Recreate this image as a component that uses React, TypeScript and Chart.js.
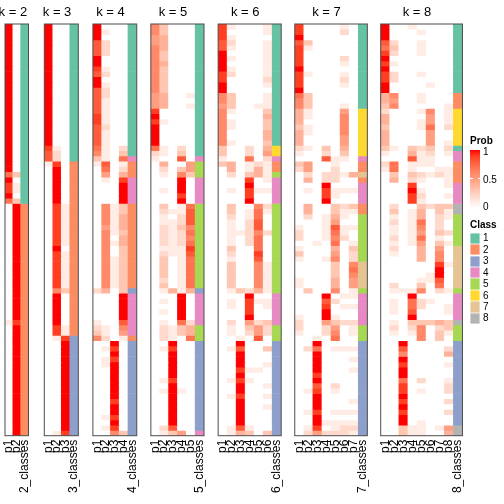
import React, { useEffect, useRef } from "react";
import { Chart, registerables } from "chart.js";

Chart.register(...registerables);

// ---------------- data ----------------
const K_VALUES = [2, 3, 4, 5, 6, 7, 8];
const PROB_LABELS = ["p1", "p2", "p3", "p4", "p5", "p6", "p7", "p8"];
const CLASS_NAMES = ["1", "2", "3", "4", "5", "6", "7", "8"];
const PROB_LEGEND_TICKS = ["1", "0.5", "0"];

// each string = one row (sample); each hex char = membership prob of p_i in tenths (A = 1.0)
const PROB_K2 = [
  "A0","A0","A0","A0","A0","A0","A0","A0","A0","A0",
  "A0","A0","A0","A0","A0","A0","A0","A0","A0","A0",
  "A0","A0","A0","A0","A0","A0","A0","A0","73","A0",
  "91","91","A0","73","0A","0A","0A","0A","0A","0A",
  "0A","0A","0A","0A","0A","0A","0A","0A","0A","0A",
  "0A","0A","0A","0A","0A","0A","19","0A","0A","0A",
  "0A","0A","0A","0A","0A","0A","0A","0A","0A","0A",
  "0A","0A","0A","0A","0A","0A","0A","0A",
];
const PROB_K3 = [
  "A00","A00","A00","A00","A00","A00","A00","A00","A00","A00",
  "A00","A00","A00","A00","A00","A00","A00","A00","A00","A00",
  "A00","A00","A00","910","820","820","190","0A0","0A0","0A0",
  "0A0","0A0","0A0","0A0","091","091","091","091","091","091",
  "091","091","0A0","091","091","091","091","091","091","091",
  "063","0A0","0A0","0A0","0A0","0A0","0A0","091","091","019",
  "00A","00A","00A","00A","00A","00A","00A","00A","00A","00A",
  "00A","00A","00A","00A","00A","00A","00A","019",
];
const PROB_K4 = [
  "A000","A100","A000","8200","8200","8200","A000","A000","9100","8200",
  "A000","A100","8200","8200","8100","8100","8100","9100","9100","8200",
  "8100","8100","8100","7102","6103","3107","1801","0702","0504","0109",
  "000A","000A","000A","000A","0613","0613","0614","0614","0514","0613",
  "0604","0614","0603","0603","0613","0613","0613","0613","0613","0613",
  "2403","000A","000A","000A","000A","000A","1008","2106","3105","6201",
  "00A0","0190","00A0","0190","01A0","00A0","00A0","00A0","00A0","00A0",
  "00A0","0090","00A0","00A0","0190","00A0","0190","0063",
];
const PROB_K5 = [
  "63000","63000","54000","54000","64000","63000","63000","64000","63000","63000",
  "63000","63000","63000","54001","54000","54001","90000","A0000","91000","A0000",
  "A0000","A0000","A0000","71020","21030","10080","04005","02035","01063","000A0",
  "000A0","010A0","00090","000A0","03017","02118","01028","01128","02136","02127",
  "02126","02127","01119","02118","03017","03017","03017","03017","02017","03017",
  "01414","000A0","010A0","000A0","010A0","000A0","01072","02134","02134","02107",
  "00A00","01900","00A00","00A00","00A00","00A00","00A00","01900","00A00","01A10",
  "00A00","00A00","00A00","00A00","00A00","00A00","02800","01350",
];
const PROB_K6 = [
  "910001","900001","910000","820001","810001","A00001","A10001","A00001","A10001","920001",
  "900002","A00001","A00000","630001","630001","530011","610003","600004","610003","610003",
  "600004","600004","610003","300204","300205","100702","340121","040141","020341","000901",
  "000A00","010911","000900","000A00","030062","030171","020170","010280","010280","011262",
  "010270","010270","030070","020090","010080","030061","030061","030061","030061","030061",
  "013241","000A00","010911","010901","000900","000A00","020523","010352","010252","001080",
  "00A000","018003","00A000","00A000","00A001","009110","00A000","019100","00A001","00A000",
  "019001","00A000","00A001","00A000","00A000","00A000","018100","014303",
];
const PROB_K7 = [
  "9000010","9000020","A000000","8300000","9100000","9000000","9000020","9000010","A000000","9100010",
  "9000020","9000010","A000000","7300000","6300000","6300010","4100050","4100060","4000060","3100060",
  "4100060","4000050","4000050","2103040","1002030","0008110","3500100","2500200","0202214","0402200",
  "000A000","0109111","0009100","000A000","0400323","0400311","0201410","0001500","1001811","2001710",
  "2001620","0010701","1000403","3000502","1001602","0000306","0000307","0000306","1000405","1000405",
  "0300601","000A011","0008200","0009011","000A000","100A100","2005322","2002501","1002601","0010700",
  "00A0000","0270111","00A0000","00A0001","00A0000","00A0001","0090000","00A0000","0080200","0190100",
  "00A0000","00A0001","00A0000","0190111","00A0000","00A1111","0190122","0252221",
];
const PROB_K8 = [
  "A0010000","A0001000","A0000000","82001000","73001000","92001000","A0000000","91000000","A0000000","92001000",
  "92000000","A0000100","A0000000","46001000","45001000","36000001","20001601","40000501","40001501","30001702",
  "40000500","40000500","40000501","31032302","10041201","00081100","27011100","17010011","03032121","04021001",
  "00090001","000A1000","00092001","00091000","02003233","03014031","01014021","02017020","01016020","01015032",
  "02017010","01015031","02004050","01004060","00004060","00000091","000000A0","000001A0","00001180","02003070",
  "01116021","000A0000","01072100","01072001","01080001","000A0000","01033343","02026023","01016031","00006030",
  "00A00000","00800002","00600004","00A00000","00900001","00A00000","00A00000","00702001","00900002","00901002",
  "00A00000","00900002","00A00000","00900002","00A00000","00A01000","00311015","00311004",
];

// class annotation as [class, number of consecutive rows]
const CLASS_K2 = [[1, 34], [2, 44]];
const CLASS_K3 = [[1, 26], [2, 33], [3, 19]];
const CLASS_K4 = [[1, 25], [4, 1], [2, 3], [4, 5], [2, 16], [3, 1], [4, 8], [2, 1], [3, 18]];
const CLASS_K5 = [[1, 25], [4, 1], [5, 3], [4, 5], [5, 16], [3, 1], [4, 6], [5, 3], [3, 17], [4, 1]];
const CLASS_K6 = [[1, 23], [6, 2], [4, 1], [2, 2], [5, 1], [4, 5], [5, 17], [4, 6], [5, 3], [3, 18]];
const CLASS_K7 = [[1, 16], [6, 9], [4, 1], [2, 2], [7, 1], [2, 1], [4, 4], [2, 2], [5, 9], [7, 5], [5, 1], [4, 6], [5, 3], [3, 18]];
const CLASS_K8 = [[1, 13], [2, 3], [6, 7], [1, 1], [4, 2], [2, 4], [4, 4], [8, 2], [5, 6], [7, 8], [5, 1], [4, 5], [8, 1], [5, 3], [3, 16], [8, 2]];

const PROBS = [PROB_K2, PROB_K3, PROB_K4, PROB_K5, PROB_K6, PROB_K7, PROB_K8];
const CLASSES = [CLASS_K2, CLASS_K3, CLASS_K4, CLASS_K5, CLASS_K6, CLASS_K7, CLASS_K8];

// ---------------- styles ----------------
const CLASS_COLORS = ["#66C2A5", "#FC8D62", "#8DA0CB", "#E78AC3", "#A6D854", "#FFD92F", "#E5C494", "#B3B3B3"];
const FONT = '"Liberation Sans", Arial, Helvetica, sans-serif';
const PANEL_TOP = 24;
const PANEL_BOTTOM = 435.7;
const COL_W = 9.33;
const GAP = 11.3;
const FIRST_LEFT = 5;
const PAD = 12;

function labToRgb(L: number, a: number, b: number): string {
  const fy = (L + 16) / 116;
  const fx = fy + a / 500;
  const fz = fy - b / 200;
  const finv = (t: number) => (t * t * t > 0.008856 ? t * t * t : (t - 16 / 116) / 7.787);
  const X = 0.95047 * finv(fx);
  const Y = 1.0 * finv(fy);
  const Z = 1.08883 * finv(fz);
  const lin = [
    3.2404542 * X - 1.5371385 * Y - 0.4985314 * Z,
    -0.969266 * X + 1.8760108 * Y + 0.041556 * Z,
    0.0556434 * X - 0.2040259 * Y + 1.0572252 * Z,
  ];
  const out = lin.map((c) => {
    const v = c <= 0.0031308 ? 12.92 * c : 1.055 * Math.pow(Math.max(c, 0), 1 / 2.4) - 0.055;
    return Math.round(Math.min(1, Math.max(0, v)) * 255);
  });
  return `rgb(${out[0]},${out[1]},${out[2]})`;
}

function probColor(v: number): string {
  return labToRgb(100 + (53.2408 - 100) * v, 80.0925 * v, 67.2032 * v);
}

function panelLeft(idx: number): number {
  let x = FIRST_LEFT;
  for (let i = 0; i < idx; i++) x += (K_VALUES[i] + 1) * COL_W + GAP;
  return x;
}

function decoPlugin(title: string, k: number) {
  return {
    id: "deco",
    afterDraw(chart: any) {
      const { ctx, chartArea: a } = chart;
      ctx.save();
      ctx.strokeStyle = "#4d4d4d";
      ctx.lineWidth = 1;
      ctx.strokeRect(a.left, a.top, a.right - a.left, a.bottom - a.top);
      ctx.fillStyle = "#000";
      ctx.font = `13px ${FONT}`;
      ctx.textAlign = "center";
      ctx.textBaseline = "alphabetic";
      const w = a.right - a.left;
      ctx.fillText(title, a.left + (w * k) / (k + 1) / 2, 15.5);
      ctx.restore();
    },
  };
}

function Panel(props: { idx: number }) {
  const { idx } = props;
  const k = K_VALUES[idx];
  const probs = PROBS[idx];
  const runs = CLASSES[idx];
  const left = panelLeft(idx);
  const panelW = (k + 1) * COL_W;
  const canvasLeft = Math.floor(left - PAD);
  const padL = left - canvasLeft;
  const canvasW = Math.ceil(padL + panelW + PAD);
  const padR = canvasW - padL - panelW;
  const ref = useRef<HTMLCanvasElement | null>(null);

  useEffect(() => {
    const canvas = ref.current;
    if (!canvas) return;
    const labels = [...PROB_LABELS.slice(0, k), `${k}_classes`];
    const classes: number[] = [];
    runs.forEach(([c, n]) => {
      for (let i = 0; i < n; i++) classes.push(c);
    });
    const datasets = probs.map((row, r) => ({
      data: labels.map(() => [r, r + 1]),
      backgroundColor: labels.map((_, c) =>
        c < k ? probColor(parseInt(row[c], 16) / 10) : CLASS_COLORS[classes[r] - 1]
      ),
      borderWidth: 0,
      grouped: false,
      categoryPercentage: 1,
      barPercentage: 1,
    }));
    const chart = new Chart(canvas, {
      type: "bar",
      data: { labels, datasets: datasets as any },
      options: {
        animation: false,
        responsive: false,
        devicePixelRatio: 1,
        events: [],
        layout: { padding: { left: padL, right: padR, top: PANEL_TOP, bottom: 0 } },
        plugins: { legend: { display: false }, tooltip: { enabled: false }, title: { display: false } },
        scales: {
          x: {
            type: "category",
            offset: true,
            grid: { display: false, drawTicks: false },
            border: { display: false },
            ticks: {
              autoSkip: false,
              maxRotation: 90,
              minRotation: 90,
              padding: 4,
              color: "#000",
              font: { family: FONT, size: 12 },
            },
            afterFit: (s: any) => {
              s.height = 504 - PANEL_BOTTOM;
            },
          },
          y: { type: "linear", min: 0, max: probs.length, reverse: true, display: false },
        },
      } as any,
      plugins: [decoPlugin(`k = ${k}`, k)],
    });
    return () => chart.destroy();
  }, []);

  return (
    <canvas
      ref={ref}
      width={canvasW}
      height={504}
      style={{ position: "absolute", left: canvasLeft, top: 0, width: canvasW, height: 504 }}
    />
  );
}

function Legend() {
  const stops: string[] = [];
  for (let i = 0; i <= 10; i++) stops.push(`${probColor(1 - i / 10)} ${i * 10}%`);
  const barTop = 149.5;
  const barH = 58;
  const tickY = [barTop, barTop + barH / 2, barTop + barH];
  const labelY = [151.7, 180.2, 206.5];
  const txt: React.CSSProperties = { position: "absolute", fontFamily: FONT, fontSize: 10, lineHeight: "10px", color: "#000", whiteSpace: "nowrap" };
  return (
    <>
      <div style={{ ...txt, left: 470, top: 136, fontWeight: "bold" }}>Prob</div>
      <div style={{ position: "absolute", left: 470, top: barTop, width: 10, height: barH, background: `linear-gradient(to bottom, ${stops.join(",")})` }} />
      {tickY.map((y, i) => (
        <React.Fragment key={"t" + i}>
          <div style={{ position: "absolute", left: 470, top: y - 0.5, width: 2.5, height: 1, background: "#fff" }} />
          <div style={{ position: "absolute", left: 477.5, top: y - 0.5, width: 2.5, height: 1, background: "#fff" }} />
        </React.Fragment>
      ))}
      {PROB_LEGEND_TICKS.map((t, i) => (
        <div key={"pl" + i} style={{ ...txt, left: 483, top: labelY[i] - 5 }}>{t}</div>
      ))}
      <div style={{ ...txt, left: 470, top: 219.5, fontWeight: "bold" }}>Class</div>
      {CLASS_NAMES.map((c, i) => (
        <React.Fragment key={"c" + i}>
          <div style={{ position: "absolute", left: 470, top: 232.6 + 11.45 * i, width: 10, height: 11.45, background: CLASS_COLORS[i], boxShadow: "inset 0 0 0 0.5px rgba(255,255,255,0.8)" }} />
          <div style={{ ...txt, left: 483, top: 238.3 + 11.45 * i - 5 }}>{c}</div>
        </React.Fragment>
      ))}
    </>
  );
}

export default function App() {
  return (
    <div style={{ position: "absolute", left: 0, top: 0, width: 504, height: 504, background: "#fff", overflow: "hidden" }}>
      {K_VALUES.map((k, i) => (
        <Panel key={k} idx={i} />
      ))}
      <Legend />
    </div>
  );
}
